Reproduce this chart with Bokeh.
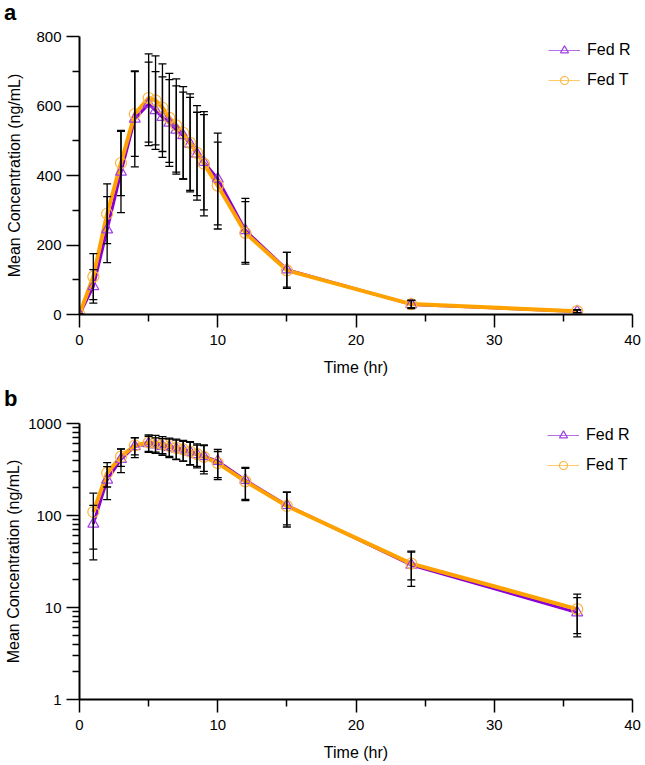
from bokeh.plotting import figure
from bokeh.layouts import column
from bokeh.models import (ColumnDataSource, Range1d, FixedTicker, Whisker, TeeHead,
                          Legend, LegendItem, BasicTickFormatter, Div)
from bokeh.embed import file_html
from bokeh.resources import INLINE

# ---------------- data ----------------
time_hr = [0, 1, 2, 3, 4, 5, 5.5, 6, 6.5, 7, 7.5, 8, 8.5, 9, 10, 12, 15, 24, 36]
fed_r_mean = [0, 81, 244, 410, 563, 606, 587, 568, 551, 531, 515, 491, 462, 438, 390, 242, 129, 29, 8.8]
fed_r_sd = [0, 48, 95, 117, 138, 120, 112, 116, 125, 127, 125, 134, 120, 137, 132, 92, 50, 12, 4.0]
fed_t_mean = [0, 109, 290, 436, 577, 623, 616, 595, 566, 544, 523, 494, 465, 434, 371, 235, 127, 30, 9.6]
fed_t_sd = [0, 66, 86, 94, 122, 127, 128, 126, 128, 134, 133, 141, 136, 150, 125, 90, 52, 10, 4.4]
series_names = ["Fed R", "Fed T"]
panel_labels = ["a", "b"]

x_ticks = [0, 10, 20, 30, 40]
x_minor_ticks = [5, 15, 25, 35]
lin_y_ticks = [0, 200, 400, 600, 800]
lin_y_minor_ticks = [100, 300, 500, 700]
log_y_ticks = [1, 10, 100, 1000]
log_y_minor_ticks = [2, 3, 4, 5, 6, 7, 8, 9, 20, 30, 40, 50, 60, 70, 80, 90,
                     200, 300, 400, 500, 600, 700, 800, 900]

FONT = "Liberation Sans"
PURPLE = "#8A00D4"
PURPLE_MK = "#A040E4"
PURPLE_LEG = "#B46FE6"
ORANGE = "#FFA200"
ORANGE_MK = "#FFB440"
ORANGE_LEG = "#FFCB66"


def style_axes(p, yticks, yminor):
    p.xgrid.visible = False
    p.ygrid.visible = False
    p.outline_line_color = None
    p.xaxis.ticker = FixedTicker(ticks=x_ticks, minor_ticks=x_minor_ticks)
    p.yaxis.ticker = FixedTicker(ticks=yticks, minor_ticks=yminor)
    for ax in (p.xaxis, p.yaxis):
        ax.axis_line_width = 2
        ax.axis_line_color = "black"
        ax.major_tick_in = 0
        ax.major_tick_out = 13
        ax.minor_tick_in = 0
        ax.minor_tick_out = 7
        ax.major_tick_line_width = 1.5
        ax.minor_tick_line_width = 1.5
        ax.major_tick_line_color = "black"
        ax.minor_tick_line_color = "black"
        ax.major_label_text_font = FONT
        ax.major_label_text_font_size = "15px"
        ax.major_label_text_color = "black"
        ax.axis_label_text_font = FONT
        ax.axis_label_text_font_size = "16px"
        ax.axis_label_text_font_style = "normal"
        ax.axis_label_text_color = "black"
    p.xaxis.major_label_standoff = 7
    p.yaxis.major_label_standoff = 5
    p.xaxis.axis_label = "Time (hr)"
    p.yaxis.axis_label = "Mean Concentration (ng/mL)"
    p.xaxis.axis_label_standoff = 11
    p.yaxis.formatter = BasicTickFormatter()
    p.xaxis.formatter = BasicTickFormatter()


def draw(p, t, rm, rs, tm, ts, legend_loc):
    # thin legend lines (hidden beneath the thick data lines)
    lr = p.line(t, rm, line_color=PURPLE_LEG, line_width=1.2)
    lt = p.line(t, tm, line_color=ORANGE_LEG, line_width=1.2)
    p.line(t, rm, line_color=PURPLE, line_width=3)
    p.line(t, tm, line_color=ORANGE, line_width=4)
    for m, s in ((rm, rs), (tm, ts)):
        src = ColumnDataSource(dict(t=t, up=[a + b for a, b in zip(m, s)],
                                    lo=[a - b for a, b in zip(m, s)]))
        w = Whisker(base="t", upper="up", lower="lo", source=src,
                    line_color="black", line_width=1.3, level="annotation",
                    upper_head=TeeHead(size=8, line_color="black", line_width=1.3),
                    lower_head=TeeHead(size=8, line_color="black", line_width=1.3))
        p.add_layout(w)
    mr = p.scatter(t, rm, marker="triangle", size=11, fill_color=None,
                   line_color=PURPLE_MK, line_width=1.2)
    mt = p.scatter(t, tm, marker="circle", size=11, fill_color=None,
                   line_color=ORANGE_MK, line_width=1.2)
    leg = Legend(items=[LegendItem(label=series_names[0], renderers=[lr, mr]),
                        LegendItem(label=series_names[1], renderers=[lt, mt])],
                 location=legend_loc, padding=0, margin=0, spacing=10,
                 glyph_width=32, glyph_height=20, label_height=20, label_standoff=7,
                 border_line_color=None, background_fill_alpha=0,
                 label_text_font=FONT, label_text_font_size="16px",
                 label_text_color="black")
    p.add_layout(leg)


def panel_div(text, pad_top):
    return Div(text=text, width=645, height=26 + pad_top, margin=0,
               styles={"font-family": FONT, "font-size": "22px", "font-weight": "bold",
                       "line-height": "25px", "padding-left": "4px",
                       "padding-top": f"{pad_top}px", "color": "black",
                       "box-sizing": "border-box"})


# ---------------- panel a (linear) ----------------
div_a = panel_div(panel_labels[0], 0)
p1 = figure(width=645, height=352, output_backend="svg", toolbar_location=None,
            x_range=Range1d(0, 40), y_range=Range1d(0, 800),
            min_border_left=76, min_border_right=13, min_border_top=10, min_border_bottom=64)
style_axes(p1, lin_y_ticks, lin_y_minor_ticks)
p1.yaxis.axis_label_standoff = 10
draw(p1, time_hr, fed_r_mean, fed_r_sd, fed_t_mean, fed_t_sd, (469, 224))

# ---------------- panel b (log) ----------------
div_b = panel_div(panel_labels[1], 8)
pos = [i for i, v in enumerate(time_hr) if v > 0]
tl = [time_hr[i] for i in pos]
p2 = figure(width=645, height=353, output_backend="svg", toolbar_location=None,
            x_range=Range1d(0, 40), y_range=Range1d(1, 1000), y_axis_type="log",
            min_border_left=79, min_border_right=12, min_border_top=11, min_border_bottom=66)
style_axes(p2, log_y_ticks, log_y_minor_ticks)
p2.yaxis.axis_label_standoff = 3
draw(p2, tl, [fed_r_mean[i] for i in pos], [fed_r_sd[i] for i in pos],
     [fed_t_mean[i] for i in pos], [fed_t_sd[i] for i in pos], (468, 224))

layout = column(div_a, p1, div_b, p2, spacing=0)
open("out.html", "w").write(file_html(layout, INLINE))
